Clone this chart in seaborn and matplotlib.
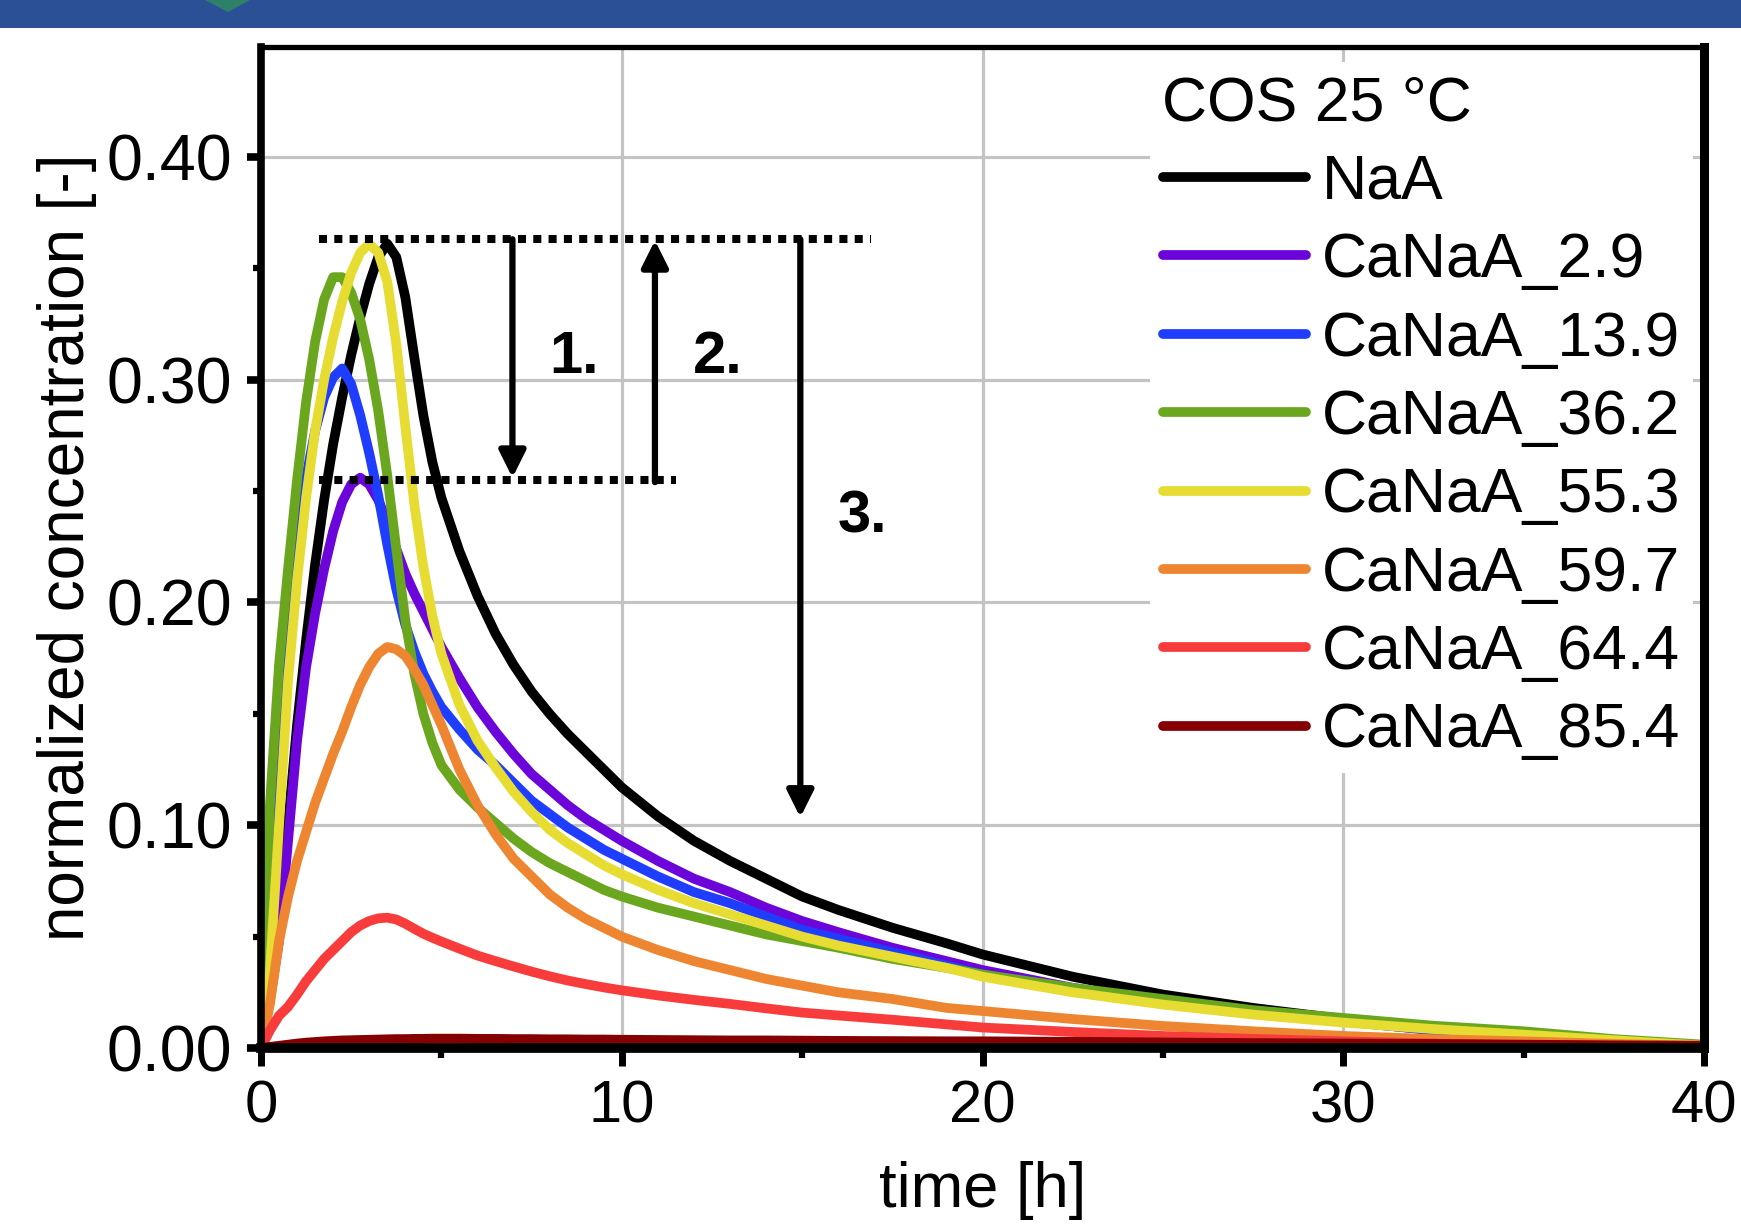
import matplotlib
matplotlib.use("Agg")
import matplotlib.pyplot as plt
import seaborn as sns
from matplotlib.ticker import MultipleLocator, FormatStrFormatter
from matplotlib.patches import Rectangle, Polygon

# ---------------- data ----------------
time_h = [0, 0.25, 0.5, 0.75, 1.0, 1.25, 1.5, 1.75, 2.0, 2.25, 2.5, 2.75, 3.0, 3.25,
          3.5, 3.75, 4.0, 4.25, 4.5, 4.75, 5.0, 5.5, 6.0, 6.5, 7.0, 7.5, 8.0, 8.5,
          9.0, 9.5, 10, 11, 12, 13, 14, 15, 16, 17.5, 19, 20, 22.5, 25, 27.5, 30,
          32.5, 35, 37.5, 40]

naa = [0, 0.028, 0.058, 0.100, 0.145, 0.183, 0.217, 0.246, 0.271, 0.292, 0.311, 0.328,
       0.343, 0.355, 0.361, 0.355, 0.337, 0.310, 0.284, 0.263, 0.247, 0.223, 0.203,
       0.186, 0.172, 0.160, 0.150, 0.141, 0.133, 0.125, 0.117, 0.104, 0.093, 0.084,
       0.076, 0.068, 0.062, 0.054, 0.047, 0.042, 0.032, 0.024, 0.018, 0.013, 0.009,
       0.0055, 0.003, 0.001]
canaa_2_9 = [0, 0.022, 0.048, 0.093, 0.138, 0.171, 0.195, 0.215, 0.232, 0.245, 0.253,
             0.256, 0.253, 0.246, 0.236, 0.224, 0.213, 0.204, 0.196, 0.188, 0.180,
             0.166, 0.153, 0.142, 0.132, 0.123, 0.116, 0.109, 0.103, 0.098, 0.093,
             0.084, 0.076, 0.070, 0.063, 0.057, 0.052, 0.045, 0.039, 0.035, 0.027,
             0.021, 0.016, 0.012, 0.008, 0.005, 0.003, 0.001]
canaa_13_9 = [0, 0.060, 0.135, 0.188, 0.228, 0.256, 0.277, 0.292, 0.301, 0.305, 0.298,
              0.284, 0.267, 0.248, 0.226, 0.206, 0.190, 0.178, 0.168, 0.160, 0.153,
              0.143, 0.134, 0.127, 0.119, 0.111, 0.105, 0.099, 0.094, 0.089, 0.085,
              0.077, 0.070, 0.065, 0.059, 0.053, 0.049, 0.043, 0.037, 0.033, 0.026,
              0.020, 0.016, 0.012, 0.008, 0.005, 0.003, 0.001]
canaa_36_2 = [0, 0.110, 0.172, 0.215, 0.255, 0.290, 0.317, 0.336, 0.346, 0.346, 0.339,
              0.327, 0.309, 0.286, 0.257, 0.224, 0.192, 0.168, 0.150, 0.137, 0.127,
              0.116, 0.108, 0.101, 0.094, 0.088, 0.083, 0.079, 0.075, 0.071, 0.068,
              0.063, 0.059, 0.055, 0.051, 0.048, 0.045, 0.040, 0.036, 0.033, 0.027,
              0.022, 0.017, 0.0135, 0.010, 0.0075, 0.004, 0.0015]
canaa_55_3 = [0, 0.035, 0.100, 0.165, 0.210, 0.247, 0.277, 0.300, 0.319, 0.335, 0.348,
              0.357, 0.361, 0.357, 0.344, 0.316, 0.279, 0.244, 0.216, 0.194, 0.177,
              0.154, 0.138, 0.126, 0.115, 0.106, 0.098, 0.092, 0.087, 0.082, 0.078,
              0.071, 0.065, 0.060, 0.055, 0.050, 0.046, 0.041, 0.036, 0.032, 0.025,
              0.0195, 0.015, 0.0114, 0.0085, 0.006, 0.0035, 0.001]
canaa_59_7 = [0, 0.020, 0.048, 0.068, 0.084, 0.097, 0.110, 0.121, 0.132, 0.142, 0.153,
              0.163, 0.171, 0.177, 0.180, 0.179, 0.176, 0.170, 0.163, 0.154, 0.145,
              0.125, 0.109, 0.096, 0.085, 0.077, 0.069, 0.063, 0.058, 0.054, 0.050,
              0.044, 0.039, 0.035, 0.031, 0.028, 0.025, 0.022, 0.018, 0.0166, 0.013,
              0.0099, 0.0075, 0.0054, 0.004, 0.003, 0.0018, 0.001]
canaa_64_4 = [0, 0.008, 0.0145, 0.0185, 0.024, 0.030, 0.035, 0.040, 0.044, 0.048, 0.052,
              0.055, 0.057, 0.0582, 0.0585, 0.0577, 0.0558, 0.0535, 0.0513, 0.0495,
              0.0478, 0.0446, 0.0415, 0.0390, 0.0366, 0.0343, 0.0322, 0.0303, 0.0287,
              0.0272, 0.0259, 0.0236, 0.0216, 0.0198, 0.0178, 0.0159, 0.0146, 0.0127,
              0.0106, 0.0092, 0.0072, 0.0054, 0.0041, 0.003, 0.002, 0.0013, 0.0008,
              0.0005]
canaa_85_4 = [0, 0.0005, 0.001, 0.0015, 0.002, 0.0024, 0.0027, 0.003, 0.0032, 0.0034,
              0.0035, 0.0036, 0.0037, 0.0038, 0.0039, 0.004, 0.004, 0.0041, 0.0041,
              0.0042, 0.0042, 0.0042, 0.0041, 0.0041, 0.004, 0.004, 0.0039, 0.0039,
              0.0038, 0.0038, 0.0037, 0.0036, 0.0035, 0.0034, 0.0034, 0.0033, 0.0032,
              0.0031, 0.003, 0.003, 0.0028, 0.0025, 0.0022, 0.002, 0.0018, 0.0015,
              0.0012, 0.001]

series_names = ["NaA", "CaNaA_2.9", "CaNaA_13.9", "CaNaA_36.2", "CaNaA_55.3",
                "CaNaA_59.7", "CaNaA_64.4", "CaNaA_85.4"]
series_values = [naa, canaa_2_9, canaa_13_9, canaa_36_2, canaa_55_3,
                 canaa_59_7, canaa_64_4, canaa_85_4]
series_colors = ["#000000", "#6C05DA", "#1F3DFF", "#6AA71F", "#E6DC32",
                 "#EE8631", "#F83C3C", "#850000"]

legend_title = "COS 25 °C"
x_label = "time [h]"
y_label = "normalized concentration [-]"
x_ticks = [0, 10, 20, 30, 40]
y_ticks = [0.0, 0.1, 0.2, 0.3, 0.4]

# annotation geometry (data units)
level_high = 0.363
level_low = 0.255
high_line_x = [1.6, 16.9]
low_line_x = [1.6, 11.5]
arrow_x = [6.97, 10.92, 14.95]
arrow_from = [0.363, 0.254, 0.363]
arrow_to = [0.256, 0.3625, 0.1035]
step_labels = ["1.", "2.", "3."]
step_label_x = [8.68, 12.67, 16.67]
step_label_y = [0.3032, 0.3032, 0.2314]

# ---------------- style ----------------
sns.set_theme(style="white")
plt.rcParams["font.family"] = ["Liberation Sans", "DejaVu Sans"]
plt.rcParams["lines.solid_capstyle"] = "round"
plt.rcParams["text.color"] = "black"
plt.rcParams["axes.labelcolor"] = "black"
plt.rcParams["xtick.color"] = "black"
plt.rcParams["ytick.color"] = "black"

W, H = 1741, 1230
fig = plt.figure(figsize=(W / 100, H / 100), dpi=100)
ax_left, ax_right, ax_top, ax_bottom = 261, 1704, 46.8, 1048
ax = fig.add_axes([ax_left / W, (H - ax_bottom) / H,
                   (ax_right - ax_left) / W, (ax_bottom - ax_top) / H])

# top blue header band
band = Rectangle((0, 1 - 28 / H), 1, 28 / H, transform=fig.transFigure,
                 facecolor="#2B5096", edgecolor="none", zorder=0)
fig.patches.append(band)
deco = Polygon([(205 / W, 1.0), (250 / W, 1.0), (228 / W, 1 - 12 / H)], closed=True,
               transform=fig.transFigure, facecolor="#2E8A5E", edgecolor="none",
               alpha=0.85, zorder=1)
fig.patches.append(deco)

lines = []
for name, vals, col in zip(series_names, series_values, series_colors):
    sns.lineplot(x=time_h, y=vals, color=col, linewidth=7, label=name,
                 estimator=None, sort=False, ax=ax, legend=False)
    lines.append(ax.get_lines()[-1])

ax.set_xlim(0, 40)
ax.set_ylim(0, 0.4494)
ax.set_xticks(x_ticks)
ax.set_yticks(y_ticks)
ax.xaxis.set_minor_locator(MultipleLocator(5))
ax.yaxis.set_minor_locator(MultipleLocator(0.05))
ax.yaxis.set_major_formatter(FormatStrFormatter("%.2f"))
ax.xaxis.set_major_formatter(FormatStrFormatter("%d"))

ax.grid(True, which="major", color="#C4C4C4", linewidth=2.3)
ax.set_axisbelow(True)
for side, sp in ax.spines.items():
    sp.set_visible(True)
    sp.set_color("black")
ax.spines["left"].set_linewidth(5.5)
ax.spines["bottom"].set_linewidth(7)
ax.spines["right"].set_linewidth(6.5)
ax.spines["top"].set_linewidth(3.8)

ax.tick_params(which="both", direction="out", color="black",
               bottom=True, left=True, top=False, right=False)
ax.tick_params(axis="y", which="major", length=10, width=5.5, pad=11,
               labelsize=46.5, labelcolor="black")
ax.tick_params(axis="y", which="minor", length=5.5, width=4.5)
ax.tick_params(axis="x", which="major", length=13, width=5, pad=10,
               labelsize=43, labelcolor="black")
ax.tick_params(axis="x", which="minor", length=7, width=4.5)

ax.set_xlabel(x_label, fontsize=45.5, color="black")
ax.set_ylabel(y_label, fontsize=46, color="black")
ax.xaxis.set_label_coords(0.5, -0.113)
ax.yaxis.set_label_coords(-0.1137, 0.5)

# dotted reference levels
ax.plot(high_line_x, [level_high, level_high], color="black", linewidth=5.8,
        linestyle=(0, (1, 0.9)), dash_capstyle="butt", zorder=4)
ax.plot(low_line_x, [level_low, level_low], color="black", linewidth=5.8,
        linestyle=(0, (1, 0.9)), dash_capstyle="butt", zorder=4)

for xa, y0, y1 in zip(arrow_x, arrow_from, arrow_to):
    ax.annotate("", xy=(xa, y1), xytext=(xa, y0),
                arrowprops=dict(arrowstyle="-|>,head_length=0.8,head_width=0.4",
                                mutation_scale=20, color="black", lw=4.5,
                                shrinkA=0, shrinkB=0), zorder=5)

for txt, xt, yt in zip(step_labels, step_label_x, step_label_y):
    ax.text(xt, yt, txt, ha="center", va="baseline", fontsize=43,
            fontweight="bold", color="black", zorder=6)

leg = ax.legend(lines, series_names, title=legend_title, loc="upper left",
                bbox_to_anchor=((1150 - ax_left) / (ax_right - ax_left),
                                (ax_bottom - 62) / (ax_bottom - ax_top)),
                borderaxespad=0, borderpad=0.2, fontsize=45, title_fontsize=45,
                handlelength=2.3, handletextpad=0.25, labelspacing=0.31,
                frameon=True, fancybox=False, facecolor="white", edgecolor="none",
                framealpha=1.0, alignment="left", labelcolor="black")
leg.get_title().set_color("black")
for lh in leg.get_lines():
    lh.set_linewidth(7)
leg.set_zorder(7)

fig.savefig("out.png", dpi=100)
